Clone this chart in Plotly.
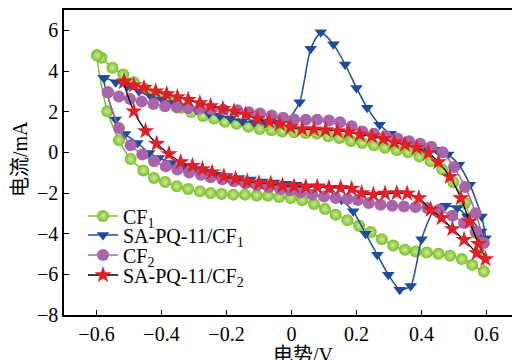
import plotly.graph_objects as go

# ---------------- data ----------------
cf1_x = [-0.598, -0.585, -0.551, -0.518, -0.485, -0.449, -0.413, -0.377, -0.341, -0.309, -0.272, -0.238,
         -0.205, -0.169, -0.133, -0.098, -0.062, -0.028, 0.008, 0.044, 0.078, 0.113, 0.148, 0.183, 0.218,
         0.254, 0.288, 0.324, 0.359, 0.394, 0.428, 0.464, 0.498, 0.534, 0.567, 0.592,
         0.556, 0.524, 0.488, 0.452, 0.416, 0.382, 0.349, 0.313, 0.278, 0.244, 0.208, 0.172, 0.136, 0.103,
         0.069, 0.033, -0.002, -0.038, -0.072, -0.107, -0.143, -0.179, -0.215, -0.249, -0.282, -0.318,
         -0.353, -0.389, -0.423, -0.456, -0.495, -0.531, -0.567, -0.598]
cf1_y = [4.77, 4.65, 4.16, 3.83, 3.45, 3.12, 2.84, 2.51, 2.19, 1.98, 1.79, 1.66,
         1.5, 1.4, 1.26, 1.15, 1.08, 1.03, 0.99, 0.95, 0.92, 0.79, 0.71, 0.56, 0.46,
         0.35, 0.22, 0.1, 0.0, -0.2, -0.44, -0.85, -1.47, -2.49, -3.97, -5.86,
         -5.53, -5.25, -5.09, -4.99, -4.93, -4.88, -4.79, -4.58, -4.27, -3.92, -3.61, -3.34, -3.07, -2.79,
         -2.54, -2.36, -2.25, -2.2, -2.13, -2.12, -2.08, -2.08, -2.05, -2.0, -1.92, -1.8,
         -1.67, -1.46, -1.26, -0.89, -0.33, 0.6, 2.02, 4.77]

sa1_x = [-0.577, -0.541, -0.505, -0.469, -0.433, -0.398, -0.364, -0.331, -0.292, -0.254, -0.22, -0.187,
         -0.151, -0.115, -0.079, -0.044, -0.01, 0.025, 0.059, 0.09, 0.129, 0.165, 0.2, 0.233, 0.271, 0.305,
         0.343, 0.379, 0.411, 0.446, 0.482, 0.515, 0.549, 0.585, 0.597,
         0.584, 0.541, 0.51, 0.474, 0.438, 0.4, 0.367, 0.333, 0.298, 0.264, 0.228, 0.19, 0.154, 0.118,
         0.085, 0.049, 0.015, -0.018, -0.054, -0.09, -0.126, -0.162, -0.198, -0.233, -0.261, -0.297,
         -0.333, -0.37, -0.408, -0.438, -0.474, -0.512, -0.541, -0.577]
sa1_y = [3.66, 3.45, 3.25, 3.0, 2.76, 2.6, 2.43, 2.27, 2.1, 1.91, 1.8, 1.66,
         1.53, 1.48, 1.45, 1.45, 1.63, 2.46, 5.09, 5.91, 5.31, 4.32, 3.17, 2.19, 1.36, 0.91,
         0.59, 0.41, 0.3, 0.13, -0.11, -0.61, -1.59, -3.15, -4.22,
         -3.89, -3.15, -2.74, -2.63, -2.86, -4.27, -6.57, -6.76, -6.02, -5.04, -4.0, -2.9, -2.33, -1.75,
         -1.67, -1.67, -1.59, -1.54, -1.48, -1.43, -1.34, -1.26, -1.18, -1.1, -0.94, -0.82,
         -0.69, -0.52, -0.28, -0.03, 0.46, 0.9, 1.61, 3.66]

cf2_x = [-0.565, -0.531, -0.497, -0.461, -0.425, -0.389, -0.353, -0.318, -0.282, -0.246, -0.21, -0.167,
         -0.131, -0.097, -0.061, -0.026, 0.008, 0.044, 0.079, 0.115, 0.149, 0.185, 0.218, 0.254, 0.29,
         0.326, 0.362, 0.396, 0.43, 0.465, 0.5, 0.534, 0.567, 0.592,
         0.567, 0.531, 0.495, 0.454, 0.418, 0.382, 0.346, 0.31, 0.274, 0.238, 0.204, 0.172, 0.136, 0.1,
         0.064, 0.028, -0.005, -0.034, -0.07, -0.105, -0.141, -0.177, -0.213, -0.249, -0.279, -0.315,
         -0.351, -0.387, -0.423, -0.459, -0.495, -0.531, -0.565]
cf2_y = [2.95, 2.75, 2.62, 2.5, 2.38, 2.27, 2.22, 2.18, 2.15, 2.12, 2.1, 2.07,
         1.97, 1.91, 1.81, 1.7, 1.61, 1.6, 1.6, 1.56, 1.48, 1.28, 1.03, 0.92, 0.8,
         0.68, 0.55, 0.42, 0.28, 0.0, -0.72, -1.7, -2.99, -4.46,
         -3.89, -3.48, -3.12, -2.82, -2.74, -2.69, -2.66, -2.63, -2.58, -2.49, -2.34, -2.3, -2.25, -2.17,
         -2.08, -1.96, -1.87, -1.8, -1.71, -1.62, -1.52, -1.42, -1.32, -1.22, -1.1, -0.99,
         -0.85, -0.69, -0.44, -0.11, 0.35, 1.2, 2.95]

sa2_x = [-0.515, -0.485, -0.454, -0.418, -0.384, -0.351, -0.318, -0.282, -0.249, -0.211, -0.177, -0.141,
         -0.105, -0.069, -0.036, -0.003, 0.033, 0.069, 0.105, 0.141, 0.175, 0.21, 0.247, 0.282, 0.316,
         0.349, 0.385, 0.421, 0.452, 0.487, 0.521, 0.548, 0.575, 0.597,
         0.57, 0.531, 0.495, 0.462, 0.428, 0.392, 0.356, 0.324, 0.288, 0.252, 0.216, 0.185, 0.151, 0.115,
         0.079, 0.044, 0.008, -0.028, -0.064, -0.1, -0.136, -0.172, -0.208, -0.244, -0.274, -0.305,
         -0.341, -0.377, -0.415, -0.449, -0.485, -0.515]
sa2_y = [3.48, 3.3, 3.17, 3.0, 2.86, 2.72, 2.58, 2.42, 2.28, 2.14, 2.02, 1.86,
         1.65, 1.53, 1.4, 1.24, 1.14, 1.13, 1.1, 1.05, 1.0, 0.87, 0.79, 0.66, 0.49,
         0.38, 0.22, -0.03, -0.48, -1.2, -2.25, -3.4, -4.5, -5.25,
         -4.95, -4.3, -3.77, -3.23, -2.82, -2.25, -2.03, -2.0, -2.03, -2.08, -2.0, -1.8, -1.75, -1.75,
         -1.7, -1.7, -1.67, -1.64, -1.54, -1.51, -1.43, -1.31, -1.18, -0.98, -0.82, -0.66,
         -0.48, -0.08, 0.42, 1.05, 2.02, 3.48]

series_names = ["CF<sub>1</sub>", "SA-PQ-11/CF<sub>1</sub>", "CF<sub>2</sub>", "SA-PQ-11/CF<sub>2</sub>"]
x_ticks = [-0.6, -0.4, -0.2, 0, 0.2, 0.4, 0.6]
y_ticks = [-8, -6, -4, -2, 0, 2, 4, 6]

GREEN = "#7dbd2a"
BLUE = "#1e4c9c"
PURPLE = "#a965a9"
RED = "#e11f27"

FONT = "Liberation Serif, 'Times New Roman', 'Noto Sans CJK SC', serif"

fig = go.Figure()

fig.add_trace(go.Scatter(
    x=cf1_x, y=cf1_y, mode="lines+markers", name=series_names[0], legend="legend",
    line=dict(color=GREEN, width=1.5, shape="spline", smoothing=0.6),
    marker=dict(symbol="circle", size=12, color=GREEN,
                gradient=dict(type="radial", color="#c9ec94"),
                line=dict(width=0))))
fig.add_trace(go.Scatter(
    x=sa1_x, y=sa1_y, mode="lines+markers", name=series_names[1], legend="legend2",
    line=dict(color=BLUE, width=1.5, shape="spline", smoothing=0.6),
    marker=dict(symbol="triangle-down", size=11, color=BLUE, line=dict(width=0))))
fig.add_trace(go.Scatter(
    x=cf2_x, y=cf2_y, mode="lines+markers", name=series_names[2], legend="legend3",
    line=dict(color=PURPLE, width=1.5, shape="spline", smoothing=0.6),
    marker=dict(symbol="circle", size=12, color=PURPLE, line=dict(width=0))))
fig.add_trace(go.Scatter(
    x=sa2_x, y=sa2_y, mode="lines+markers", name=series_names[3], legend="legend4",
    line=dict(color="black", width=1.3, shape="spline", smoothing=0.6),
    marker=dict(symbol="star", size=13, color=RED, line=dict(width=0))))

PLOT_TOP, PLOT_BOTTOM, PLOT_LEFT, W, H = 10, 315, 64, 512, 360
PH = PLOT_BOTTOM - PLOT_TOP
PW = W - PLOT_LEFT


def py2paper(py):
    return (PLOT_BOTTOM - py) / PH


def px2paper(px):
    return (px - PLOT_LEFT) / PW


legend_base = dict(xanchor="left", yanchor="middle", bgcolor="rgba(0,0,0,0)", borderwidth=0,
                   font=dict(family=FONT, size=20, color="black"), itemwidth=30)
legend_rows = [216, 235, 255, 275]

fig.update_layout(
    width=W, height=H,
    margin=dict(l=PLOT_LEFT, r=0, t=PLOT_TOP, b=H - PLOT_BOTTOM),
    paper_bgcolor="white", plot_bgcolor="white",
    font=dict(family=FONT, size=20, color="black"),
    showlegend=True,
    legend=dict(legend_base, x=px2paper(83), y=py2paper(legend_rows[0])),
    legend2=dict(legend_base, x=px2paper(83), y=py2paper(legend_rows[1])),
    legend3=dict(legend_base, x=px2paper(83), y=py2paper(legend_rows[2])),
    legend4=dict(legend_base, x=px2paper(83), y=py2paper(legend_rows[3])),
    xaxis=dict(range=[-0.7, 0.6785], tickvals=x_ticks,
               ticks="inside", ticklen=5, tickwidth=1.2, tickcolor="black",
               showline=True, linecolor="black", linewidth=1.5, mirror=True,
               showgrid=False, zeroline=False,
               tickfont=dict(family=FONT, size=20)),
    yaxis=dict(range=[-8, 7], tickvals=y_ticks,
               ticks="inside", ticklen=5, tickwidth=1.2, tickcolor="black",
               showline=True, linecolor="black", linewidth=1.5, mirror=False,
               showgrid=False, zeroline=False,
               tickfont=dict(family=FONT, size=20)),
    annotations=[
        dict(text="电势/V", xref="paper", yref="paper", x=px2paper(303), y=py2paper(355),
             xanchor="center", yanchor="middle", showarrow=False,
             font=dict(family=FONT, size=20)),
        dict(text="电流/mA", xref="paper", yref="paper", x=px2paper(20), y=py2paper(159),
             xanchor="center", yanchor="middle", showarrow=False, textangle=-90,
             font=dict(family=FONT, size=20)),
    ],
)

fig.write_html("out.html", config={"displayModeBar": False},
               post_script="document.body.style.margin='0';")
